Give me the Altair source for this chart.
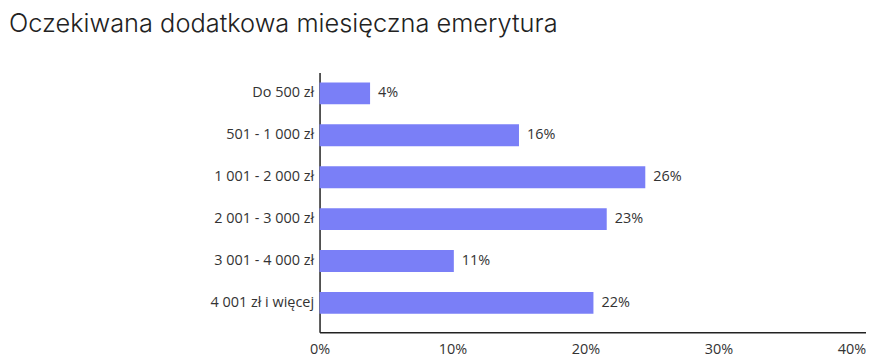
import altair as alt
import pandas as pd

categories = ["Do 500 zł", "501 - 1 000 zł", "1 001 - 2 000 zł", "2 001 - 3 000 zł", "3 001 - 4 000 zł", "4 001 zł i więcej"]
bar_values = [3.8, 15.0, 24.5, 21.6, 10.1, 20.6]
label_texts = ["4%", "16%", "26%", "23%", "11%", "22%"]
tick_values = [0, 10, 20, 30, 40]

df = pd.DataFrame({"cat": categories, "val": bar_values, "lab": label_texts})

FS = 14.5
x = alt.X("val:Q", scale=alt.Scale(domain=[0, 41.1], nice=False, zero=True),
          axis=alt.Axis(values=tick_values, labelExpr="datum.value + '%'", title=None,
                        grid=False, ticks=False, domainColor="#222", domainWidth=1.5,
                        labelFont="Open Sans", labelFontSize=FS, labelColor="#333",
                        labelPadding=10, labelFlush=False))
y = alt.Y("cat:N", sort=categories,
          scale=alt.Scale(paddingInner=0.477, paddingOuter=0.339, align=0.35),
          axis=alt.Axis(title=None, ticks=False, domainColor="#222", domainWidth=1.5,
                        labelFont="Open Sans", labelFontSize=FS, labelColor="#333",
                        labelPadding=6))

bars = alt.Chart(df).mark_bar(color="#7A7FF7").encode(x=x, y=y)
text = alt.Chart(df).mark_text(align="left", dx=8, font="Open Sans", fontSize=FS, color="#333").encode(
    x="val:Q", y=alt.Y("cat:N", sort=categories), text="lab:N")

chart = (bars + text).properties(
    width=549, height=261,
    autosize=alt.AutoSizeParams(type="none"),
    padding={"left": 313, "top": 64, "right": 0, "bottom": 28},
    title=alt.TitleParams("Oczekiwana dodatkowa miesięczna emerytura", anchor="start", frame="group",
                          font="Inter", fontSize=25.5, fontWeight=300, color="#222",
                          dx=-312, offset=35),
).configure_view(stroke=None)

chart.save("out.html", embed_options={"renderer": "svg", "actions": False})
